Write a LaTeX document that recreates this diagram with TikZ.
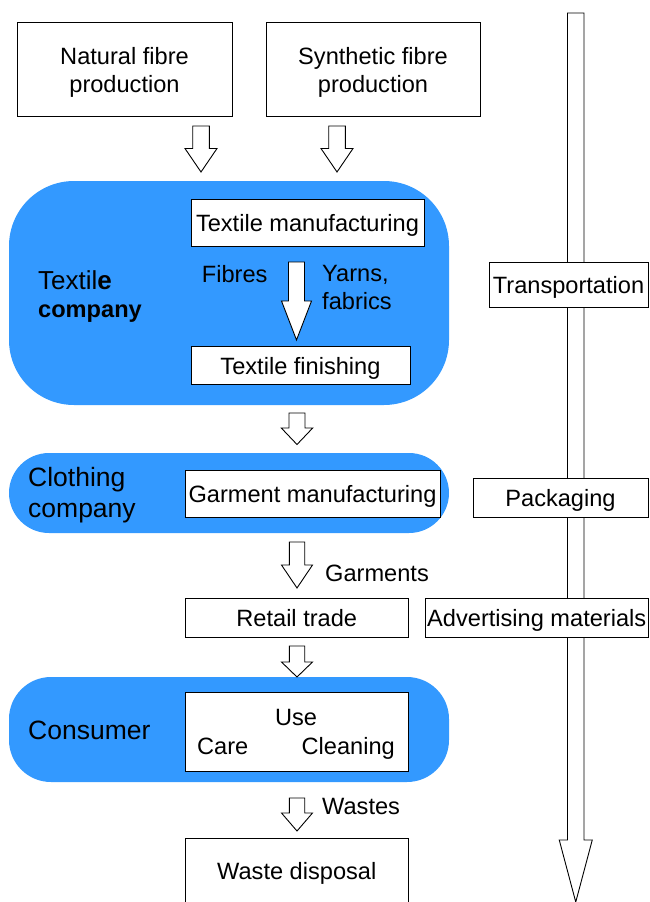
\documentclass[tikz,border=0pt]{standalone}
\usepackage{fontspec}
\setmainfont{Liberation Sans}
\definecolor{compblue}{HTML}{3399FF}
\newcommand{\fs}{\fontsize{23.6}{28}\selectfont}
\newcommand{\fbig}{\fontsize{26.5}{31}\selectfont}
\tikzset{
  frame/.style={draw=black, line width=0.9pt, fill=white, inner sep=0pt, font=\fs},
  box/.style={frame, text height=18pt, text depth=0pt},
  company/.style={fill=compblue, draw=none, inner sep=0pt},
  harrow/.style={draw=black, line width=0.9pt, fill=white, line join=miter},
  lbl/.style={inner sep=0pt, font=\fs},
}
% name, centre x, top, head base, tip, half shaft, half head
\newcommand{\hollowdown}[7]{%
  \draw[harrow] (#2-#6,#3) -- (#2+#6,#3) -- (#2+#6,#4) -- (#2+#7,#4)
    -- (#2,#5) -- (#2-#7,#4) -- (#2-#6,#4) -- cycle;
  \coordinate (#1) at (#2,#5);}
\begin{document}
\begin{tikzpicture}[x=1pt,y=-1pt]
\useasboundingbox (0,0) rectangle (649,902);
\clip (0,0) rectangle (649,902);
% long transport arrow
\hollowdown{trtip}{575.75}{13}{840}{902}{8.25}{16.5}
% company areas
\node[company, minimum width=440pt, minimum height=224pt, rounded corners=65pt] (tc) at (229,293) {};
\node[company, minimum width=440pt, minimum height=80pt, rounded corners=40pt] (cc) at (229,493) {};
\node[company, minimum width=440pt, minimum height=105pt, rounded corners=42pt] (cons) at (229,729.5) {};
% boxes
\node[frame, minimum width=215pt, minimum height=94pt, align=center, text height=46pt, text depth=0pt] (nat) at (124.5,69) {Natural fibre\\production};
\node[frame, minimum width=214pt, minimum height=94pt, align=center, text height=46pt, text depth=0pt] (syn) at (373,69) {Synthetic fibre\\production};
\node[box, minimum width=233pt, minimum height=47pt] (tm) at (307.5,222.5) {Textile manufacturing};
\node[box, minimum width=219pt, minimum height=38pt] (tf) at (300.5,365) {Textile finishing};
\node[box, minimum width=159pt, minimum height=45pt] (trans) at (568.5,284.5) {Transportation};
\node[box, minimum width=255pt, minimum height=47pt] (gm) at (312.5,493.5) {Garment manufacturing};
\node[box, minimum width=175pt, minimum height=39pt] (pack) at (560.5,497.5) {Packaging};
\node[box, minimum width=223.5pt, minimum height=39pt] (retail) at (296.75,617.5) {Retail trade};
\node[box, minimum width=222.5pt, minimum height=39pt] (adv) at (536.75,617.5) {Advertising materials};
\node[box, minimum width=223.5pt, minimum height=79pt] (use) at (296.75,731.5) {};
\node[box, minimum width=223.5pt, minimum height=68pt, text depth=4pt] (waste) at (296.75,872) {Waste disposal};
% texts inside use box
\node[lbl, anchor=base] (usel) at (296,725) {Use};
\node[lbl, anchor=base west] (carel) at (197,754) {Care};
\node[lbl, anchor=base east] (cleanl) at (395,754) {Cleaning};
% company labels
\node[lbl, anchor=base west, align=left] (tcl) at (38,317.7) {{\fontsize{26}{29.7}\selectfont Textil\textbf{e}}\\\textbf{company}};
\node[lbl, anchor=base west, align=left, font=\fbig] (ccl) at (28,517) {Clothing\\company};
\node[lbl, anchor=base west, font=\fbig] (consl) at (28,739) {Consumer};
% flow labels
\node[lbl, anchor=base west] (fib) at (201.7,282) {Fibres};
\node[lbl, anchor=base west, align=left] (yarn) at (322,309) {Yarns,\\fabrics};
\node[lbl, anchor=base west] (garl) at (325,581.7) {Garments};
\node[lbl, anchor=base west] (wastl) at (322,814) {Wastes};
% hollow arrows
\hollowdown{a1}{201}{126}{148.5}{172}{8.3}{16}
\hollowdown{a2}{337}{126}{148.5}{172}{8.3}{16}
\hollowdown{a0}{296.5}{262}{301}{340}{8}{15}
\hollowdown{a3}{297}{413}{428}{444.5}{8}{15.7}
\hollowdown{a4}{297}{542}{565}{588}{7.7}{15.5}
\hollowdown{a5}{297}{646}{662}{677}{7.7}{15.5}
\hollowdown{a6}{297}{798}{813}{831}{7.7}{15.5}
\end{tikzpicture}
\end{document}
